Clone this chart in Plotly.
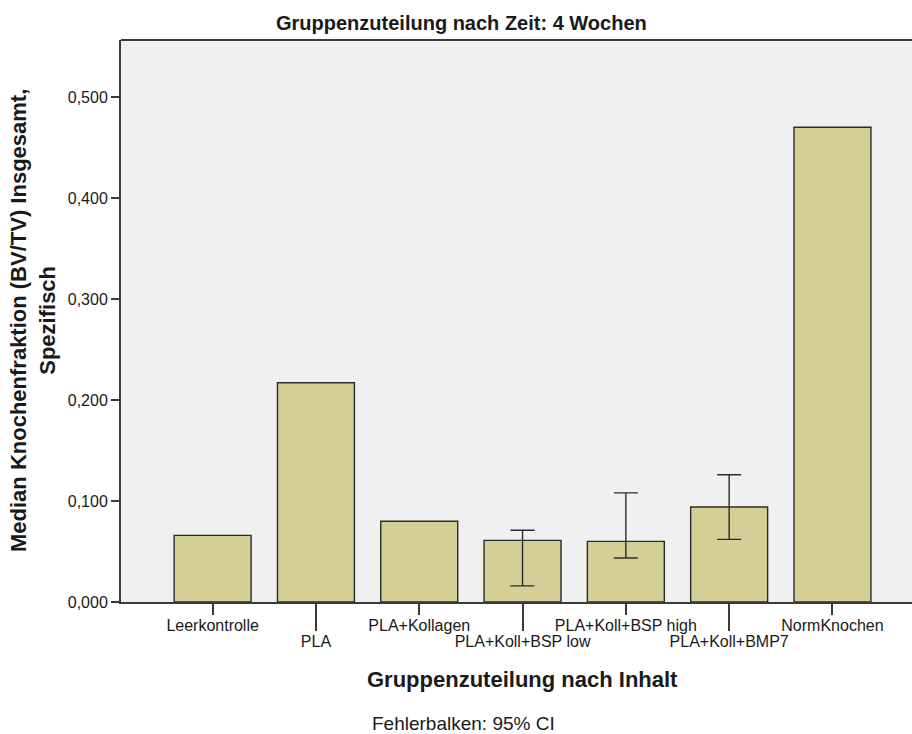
import plotly.graph_objects as go

categories = ["Leerkontrolle", "PLA", "PLA+Kollagen", "PLA+Koll+BSP low",
              "PLA+Koll+BSP high", "PLA+Koll+BMP7", "NormKnochen"]
medians = [0.066, 0.217, 0.080, 0.061, 0.060, 0.094, 0.470]
ci_low = [None, None, None, 0.016, 0.0435, 0.062, None]
ci_high = [None, None, None, 0.071, 0.108, 0.126, None]
y_ticks = [0.0, 0.1, 0.2, 0.3, 0.4, 0.5]

FONT = "Liberation Sans, Arial, sans-serif"
LINE = "#3a3a3a"

xs = list(range(len(categories)))
fig = go.Figure()
fig.add_trace(go.Bar(
    x=xs, y=medians, width=0.745,
    marker=dict(color="#d3cf96", line=dict(color="#2b2b2b", width=1.4)),
    showlegend=False, hoverinfo="y"))

ex, ey, eplus, eminus = [], [], [], []
for i, (m, lo, hi) in enumerate(zip(medians, ci_low, ci_high)):
    if lo is not None and hi is not None:
        ex.append(i); ey.append(m); eplus.append(hi - m); eminus.append(m - lo)
fig.add_trace(go.Scatter(
    x=ex, y=ey, mode="markers", marker=dict(size=0.1, opacity=0),
    error_y=dict(type="data", array=eplus, arrayminus=eminus, symmetric=False,
                 color="#2b2b2b", thickness=1.4, width=12),
    showlegend=False, hoverinfo="skip"))

xr = [-0.887, 6.77]
even = [i for i in xs if i % 2 == 0]
odd = [i for i in xs if i % 2 == 1]
fig.update_layout(
    width=912, height=734,
    margin=dict(l=121, r=0, t=40, b=132),
    paper_bgcolor="white", plot_bgcolor="#f0f0f0",
    separators=",.",
    font=dict(family=FONT, size=16, color="#1a1a1a"),
    xaxis=dict(range=xr, tickmode="array", tickvals=even,
               ticktext=[categories[i] for i in even],
               ticks="outside", ticklen=11, tickwidth=2, tickcolor=LINE,
               ticklabelstandoff=-3,
               showline=True, linecolor=LINE, linewidth=2, showgrid=False,
               zeroline=False, tickfont=dict(size=16, family=FONT)),
    xaxis2=dict(range=xr, overlaying="x", side="bottom", anchor="y",
                tickmode="array", tickvals=odd,
                ticktext=[categories[i] for i in odd],
                ticks="outside", ticklen=28, tickwidth=2, tickcolor=LINE,
                ticklabelstandoff=-3,
                showline=False, showgrid=False, zeroline=False,
                tickfont=dict(size=16, family=FONT)),
    yaxis=dict(range=[0, 0.5564], tickmode="array", tickvals=y_ticks,
               tickformat=".3f", ticks="outside", ticklen=8, tickwidth=2,
               tickcolor=LINE, showline=True, linecolor=LINE, linewidth=2,
               showgrid=False, zeroline=False,
               tickfont=dict(size=16, family=FONT)),
)
# invisible trace to activate xaxis2
fig.add_trace(go.Scatter(x=[0], y=[0], xaxis="x2", mode="markers",
                         marker=dict(opacity=0), showlegend=False, hoverinfo="skip"))

fig.add_shape(type="line", xref="paper", yref="paper", x0=0, x1=1, y0=1, y1=1,
              line=dict(color=LINE, width=2))

fig.add_annotation(text="<b>Gruppenzuteilung nach Zeit: 4 Wochen</b>",
                   xref="paper", yref="paper", x=(461 - 121) / 791, y=1,
                   xanchor="center", yanchor="middle",
                   yshift=17, showarrow=False, font=dict(size=20, family=FONT))
fig.add_annotation(text="<b>Gruppenzuteilung nach Inhalt</b>",
                   xref="paper", yref="paper", x=(522 - 121) / 791, y=0,
                   xanchor="center", yanchor="middle",
                   yshift=-77, showarrow=False, font=dict(size=22, family=FONT))
fig.add_annotation(text="Fehlerbalken: 95% CI",
                   xref="paper", yref="paper", x=(463 - 121) / 791, y=0,
                   xanchor="center", yanchor="middle",
                   yshift=-121, showarrow=False, font=dict(size=19, family=FONT))
fig.add_annotation(text="<b>Median Knochenfraktion (BV/TV) Insgesamt,<br>Spezifisch</b>",
                   xref="paper", yref="paper", x=0, xshift=-88, y=0.5,
                   xanchor="center", yanchor="middle",
                   textangle=-90, showarrow=False,
                   font=dict(size=22, family=FONT))

fig.write_html("out.html")
